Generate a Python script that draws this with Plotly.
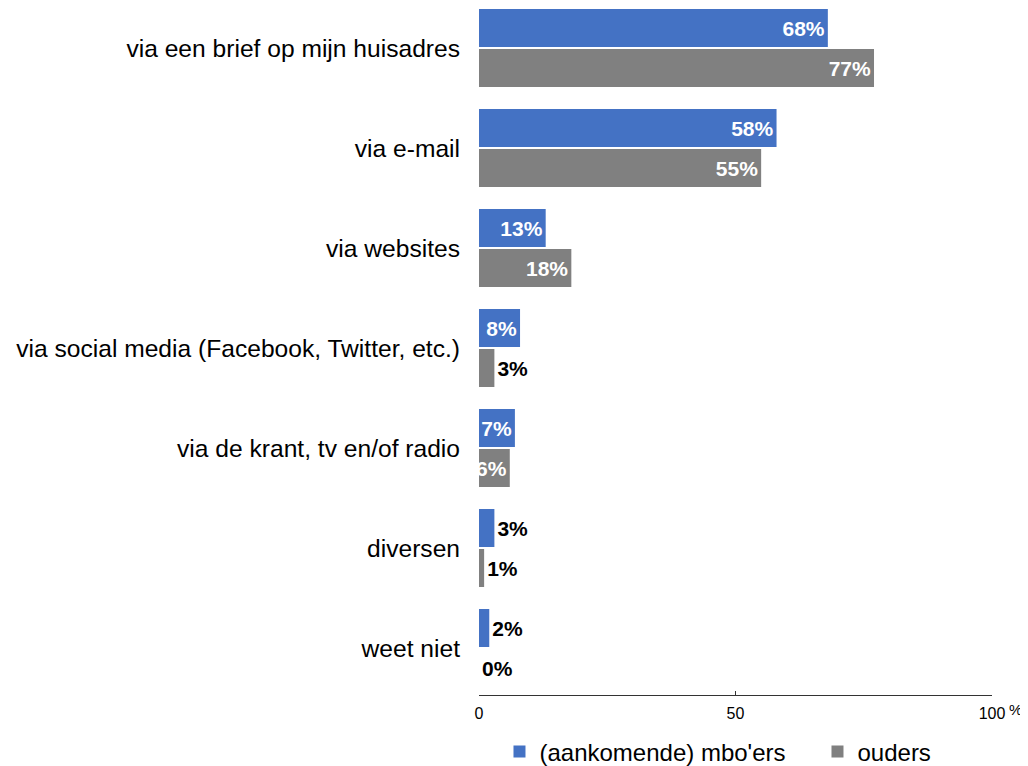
import plotly.graph_objects as go

categories = [
    "via een brief op mijn huisadres",
    "via e-mail",
    "via websites",
    "via social media (Facebook, Twitter, etc.)",
    "via de krant, tv en/of radio",
    "diversen",
    "weet niet",
]
mbo_values = [68, 58, 13, 8, 7, 3, 2]
ouders_values = [77, 55, 18, 3, 6, 1, 0]
series_names = ["(aankomende) mbo'ers", "ouders"]
x_ticks = [0, 50, 100]
x_tick_labels = ["0", "50", "100"]

BLUE = "#4472C4"
GREY = "#808080"
FONT = "Liberation Sans, Arial, sans-serif"


def label_positions(vals):
    return ["inside" if v >= 6 else "outside" for v in vals]


def label_colors(vals):
    return ["white" if v >= 6 else "black" for v in vals]


fig = go.Figure()
for name, vals, color in [
    (series_names[0], mbo_values, BLUE),
    (series_names[1], ouders_values, GREY),
]:
    fig.add_trace(go.Bar(
        name=name,
        y=categories,
        x=vals,
        orientation="h",
        marker=dict(color=color, line=dict(width=0)),
        text=[f"{v}%" for v in vals],
        textposition=label_positions(vals),
        insidetextanchor="end",
        textangle=0,
        constraintext="none",
        cliponaxis=False,
        textfont=dict(family=FONT, size=21, color=label_colors(vals), weight="bold"),
        hoverinfo="x+y",
    ))

fig.update_layout(
    width=1020,
    height=758,
    margin=dict(l=471, r=36, t=0, b=71, autoexpand=False),
    barmode="group",
    bargap=0.2,
    bargroupgap=0.05,
    plot_bgcolor="white",
    paper_bgcolor="white",
    font=dict(family=FONT, color="black"),
    showlegend=True,
    legend=dict(
        orientation="h",
        x=-0.001,
        xanchor="left",
        y=-0.083,
        yanchor="middle",
        font=dict(family=FONT, size=24, color="black"),
        itemwidth=30,
        indentation=21,
        entrywidth=252,
        entrywidthmode="pixels",
        traceorder="normal",
        bgcolor="rgba(0,0,0,0)",
    ),
    xaxis=dict(
        range=[0, 100],
        tickvals=x_ticks,
        ticktext=x_tick_labels,
        ticks="inside",
        ticklen=4,
        tickcolor="#333333",
        showline=True,
        linecolor="#333333",
        linewidth=1,
        showgrid=False,
        zeroline=False,
        ticklabelstandoff=4,
        tickfont=dict(family=FONT, size=16, color="black"),
    ),
    yaxis=dict(
        categoryorder="array",
        categoryarray=categories,
        range=[6.47, -0.40],
        showline=False,
        showgrid=False,
        zeroline=False,
        ticks="",
        ticklabelstandoff=18,
        tickfont=dict(family=FONT, size=24.6, color="black"),
    ),
    annotations=[dict(
        text="%",
        xref="paper",
        yref="paper",
        x=1.0,
        xshift=15,
        y=0,
        yshift=-14,
        xanchor="left",
        yanchor="middle",
        showarrow=False,
        font=dict(family=FONT, size=15, color="black"),
    )],
)

fig.write_html("out.html")
